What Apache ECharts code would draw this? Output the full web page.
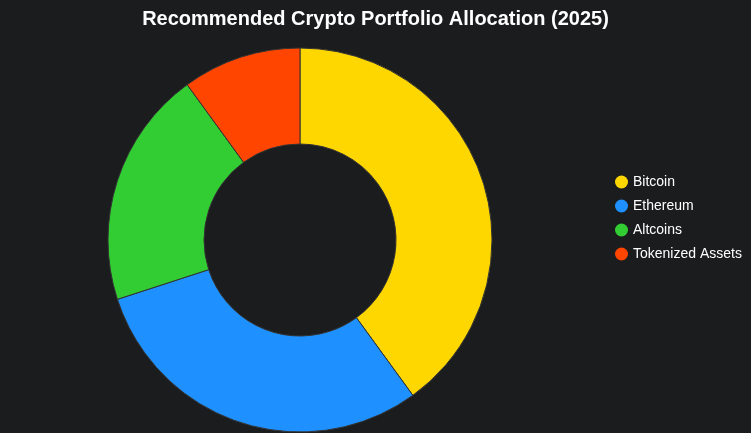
<!DOCTYPE html>
<html>
<head>
<meta charset="utf-8">
<script src="https://cdn.jsdelivr.net/npm/echarts@6/dist/echarts.min.js"></script>
<style>
  html, body { margin: 0; padding: 0; background: #1b1c1e; }
  #main { width: 751px; height: 433px; }
</style>
</head>
<body>
<div id="main"></div>
<script>
// allocation data
var categories = ['Bitcoin', 'Ethereum', 'Altcoins', 'Tokenized Assets'];
var shares = [40, 30, 20, 10];
var colors = ['#FFD700', '#1E90FF', '#32CD32', '#FF4500'];

var chart = echarts.init(document.getElementById('main'));

var pieData = categories.map(function (name, i) {
  return { name: name, value: shares[i] };
});

var option = {
  backgroundColor: '#1b1c1e',
  color: colors,
  title: {
    text: 'Recommended Crypto Portfolio Allocation (2025)',
    left: 'center',
    top: 4,
    textStyle: {
      color: '#ffffff',
      fontSize: 20,
      fontWeight: 'bold',
      fontFamily: 'Liberation Sans, Arial, sans-serif'
    }
  },
  legend: {
    orient: 'vertical',
    left: 610,
    top: 170,
    icon: 'circle',
    itemWidth: 13,
    itemHeight: 13,
    itemGap: 10,
    itemStyle: { borderWidth: 0 },
    textStyle: {
      color: '#ffffff',
      fontSize: 14,
      fontFamily: 'Liberation Sans, Arial, sans-serif'
    },
    data: categories
  },
  series: [
    {
      name: 'Allocation',
      type: 'pie',
      center: [300, 240],
      radius: [96, 192],
      startAngle: 90,
      clockwise: true,
      label: { show: false },
      labelLine: { show: false },
      itemStyle: {
        borderColor: '#333333',
        borderWidth: 1
      },
      data: pieData
    }
  ]
};

chart.setOption(option);
</script>
</body>
</html>
